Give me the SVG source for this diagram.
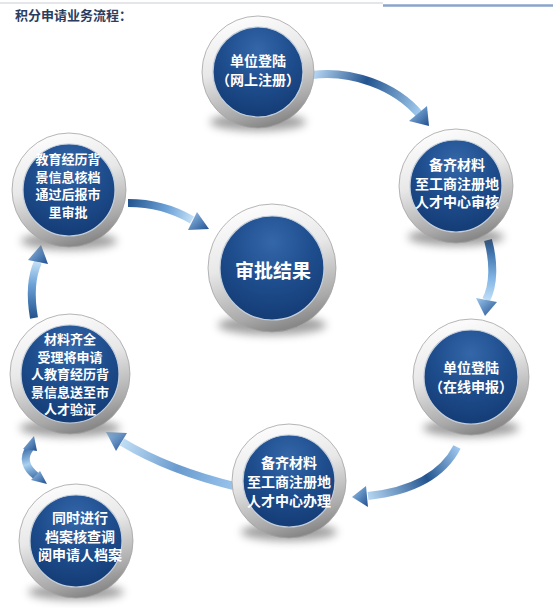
<svg xmlns="http://www.w3.org/2000/svg" width="553" height="611" viewBox="0 0 553 611">
<style>
.t{font-family:"Noto Sans CJK SC","Noto Sans",sans-serif;font-weight:bold;fill:#ffffff;font-size:14px;text-anchor:middle}
.s{font-size:13px}
.big{font-size:19px}
.title{font-family:"Noto Sans CJK SC","Noto Sans",sans-serif;font-weight:bold;fill:#2b3d5e;font-size:13px}
.ring{fill:url(#ringG);stroke:#a3a3a3;stroke-width:0.8}
.inner{fill:url(#innerG);stroke:#c3cedb;stroke-width:1.2}
.sh{fill:#555;opacity:0.55;filter:url(#blur)}
.band{fill:none;stroke-width:8;stroke-linecap:butt}
.head{fill:url(#headG)}
</style>
<defs>
<linearGradient id="ringG" x1="0.2" y1="0" x2="0.5" y2="1">
<stop offset="0" stop-color="#ffffff"/>
<stop offset="0.45" stop-color="#e8e8e8"/>
<stop offset="0.85" stop-color="#a9a9a9"/>
<stop offset="1" stop-color="#888888"/>
</linearGradient>
<radialGradient id="innerG" cx="0.5" cy="0.25" r="0.8">
<stop offset="0" stop-color="#3467a9"/>
<stop offset="0.5" stop-color="#1e4d8d"/>
<stop offset="1" stop-color="#133a72"/>
</radialGradient>
<linearGradient id="headG" x1="0" y1="0" x2="1" y2="1">
<stop offset="0" stop-color="#9cc7ee"/>
<stop offset="1" stop-color="#1f4f8f"/>
</linearGradient>
<filter id="blur" x="-50%" y="-50%" width="200%" height="200%"><feGaussianBlur stdDeviation="4"/></filter>
<linearGradient id="a1" gradientUnits="userSpaceOnUse" x1="312" y1="75" x2="422" y2="118">
<stop offset="0" stop-color="#b9d8f3"/><stop offset="0.45" stop-color="#23548f"/><stop offset="1" stop-color="#a9d2f4"/>
</linearGradient>
<linearGradient id="a2" gradientUnits="userSpaceOnUse" x1="488" y1="240" x2="486" y2="302">
<stop offset="0" stop-color="#23548f"/><stop offset="0.6" stop-color="#7fb3e3"/><stop offset="1" stop-color="#c6e2f8"/>
</linearGradient>
<linearGradient id="a3" gradientUnits="userSpaceOnUse" x1="457" y1="447" x2="366" y2="496">
<stop offset="0" stop-color="#9cc6ee"/><stop offset="0.4" stop-color="#23548f"/><stop offset="1" stop-color="#b9d9f4"/>
</linearGradient>
<linearGradient id="a4" gradientUnits="userSpaceOnUse" x1="238" y1="487" x2="120" y2="441">
<stop offset="0" stop-color="#9cc6ee"/><stop offset="0.5" stop-color="#6a9bcf"/><stop offset="1" stop-color="#c3e0f6"/>
</linearGradient>
<linearGradient id="a5" gradientUnits="userSpaceOnUse" x1="34" y1="318" x2="38" y2="262">
<stop offset="0" stop-color="#23548f"/><stop offset="0.6" stop-color="#6ea3d8"/><stop offset="1" stop-color="#c3e0f6"/>
</linearGradient>
<linearGradient id="a6" gradientUnits="userSpaceOnUse" x1="128" y1="203" x2="192" y2="221">
<stop offset="0" stop-color="#23548f"/><stop offset="0.6" stop-color="#6ea3d8"/><stop offset="1" stop-color="#c3e0f6"/>
</linearGradient>
<linearGradient id="a7" gradientUnits="userSpaceOnUse" x1="30" y1="446" x2="40" y2="478">
<stop offset="0" stop-color="#3a6aa8"/><stop offset="0.5" stop-color="#a8d0f0"/><stop offset="1" stop-color="#3a6aa8"/>
</linearGradient>
</defs>
<rect width="553" height="611" fill="#ffffff"/>
<line x1="0" y1="3" x2="383" y2="3" stroke="#e4e6ea" stroke-width="2"/>
<line x1="383" y1="5.5" x2="553" y2="5.5" stroke="#8aa5cc" stroke-width="2.5"/>
<text class="title" x="15" y="20">积分申请业务流程：</text>

<g id="connectors">
<g id="c1"><path class="band" stroke="url(#a1)" d="M312,75 C350,70 395,85 420,115"/><polygon class="head" points="429,126 409,121 427,106"/></g>
<g id="c2"><path class="band" stroke="url(#a2)" d="M488,240 C494,262 494,285 486,300"/><polygon class="head" points="485,316 476,298 497,302"/></g>
<g id="c3"><path class="band" stroke="url(#a3)" d="M457,447 C440,480 405,492 368,496"/><polygon class="head" points="352,497 366,486 368,507"/></g>
<g id="c4"><path class="band" stroke="url(#a4)" d="M238,487 C200,478 160,465 122,442"/><polygon class="head" points="106,432 127,433 116,451"/></g>
<g id="c5"><path class="band" stroke="url(#a5)" d="M34,318 C30,295 32,275 38,262"/><polygon class="head" points="41,245 28,260 48,264"/></g>
<g id="c6"><path class="band" stroke="url(#a6)" d="M128,203 C155,203 175,210 192,220"/><polygon class="head" points="209,229 197,212 188,230"/></g>
<g id="c7"><path class="band" stroke="url(#a7)" stroke-width="6" d="M30,448 C22,458 26,468 36,476"/><polygon class="head" points="34,436 23,449 37,451"/><polygon class="head" points="47,484 31,480 40,471"/></g>
</g>

<g id="n1"><ellipse class="sh" cx="258" cy="122" rx="48" ry="9"/><circle class="ring" cx="258" cy="72" r="56"/><circle class="inner" cx="258" cy="72" r="45"/>
<text class="t" x="258" y="66">单位登陆<tspan x="258" y="85">（网上注册）</tspan></text></g>

<g id="n2"><ellipse class="sh" cx="456" cy="237" rx="48" ry="9"/><circle class="ring" cx="456" cy="186" r="57"/><circle class="inner" cx="456" cy="186" r="46"/>
<text class="t" x="457" y="170">备齐材料<tspan x="457" y="188.5">至工商注册地</tspan><tspan x="457" y="207">人才中心审核</tspan></text></g>

<g id="n3"><ellipse class="sh" cx="272" cy="325" rx="54" ry="10"/><circle class="ring" cx="272" cy="268" r="64"/><circle class="inner" cx="272" cy="268" r="52"/>
<text class="t big" x="273" y="278">审批结果</text></g>

<g id="n4"><ellipse class="sh" cx="471" cy="428" rx="48" ry="9"/><circle class="ring" cx="471" cy="377" r="58"/><circle class="inner" cx="471" cy="377" r="47"/>
<text class="t" x="471" y="373">单位登陆<tspan x="471" y="392">（在线申报）</tspan></text></g>

<g id="n5"><ellipse class="sh" cx="289" cy="532" rx="48" ry="9"/><circle class="ring" cx="289" cy="481" r="57"/><circle class="inner" cx="289" cy="481" r="46"/>
<text class="t" x="289" y="468">备齐材料<tspan x="289" y="487">至工商注册地</tspan><tspan x="289" y="506">人才中心办理</tspan></text></g>

<g id="n6"><ellipse class="sh" cx="69" cy="241" rx="48" ry="9"/><circle class="ring" cx="69" cy="190" r="57"/><circle class="inner" cx="69" cy="190" r="46"/>
<text class="t s" x="68" y="164">教育经历背<tspan x="68" y="181.5">景信息核档</tspan><tspan x="68" y="199">通过后报市</tspan><tspan x="68" y="216.5">里审批</tspan></text></g>

<g id="n7"><ellipse class="sh" cx="70" cy="428" rx="50" ry="9"/><circle class="ring" cx="70" cy="374" r="60"/><circle class="inner" cx="70" cy="374" r="49"/>
<text class="t s" x="70" y="344">材料齐全<tspan x="70" y="361.5">受理将申请</tspan><tspan x="70" y="379">人教育经历背</tspan><tspan x="70" y="396.5">景信息送至市</tspan><tspan x="70" y="414">人才验证</tspan></text></g>

<g id="n8"><ellipse class="sh" cx="76" cy="592" rx="48" ry="8"/><circle class="ring" cx="76" cy="541" r="57"/><circle class="inner" cx="76" cy="541" r="46"/>
<text class="t" x="80" y="523">同时进行<tspan x="80" y="541.6">档案核查调</tspan><tspan x="80" y="560.2">阅申请人档案</tspan></text></g>
</svg>
